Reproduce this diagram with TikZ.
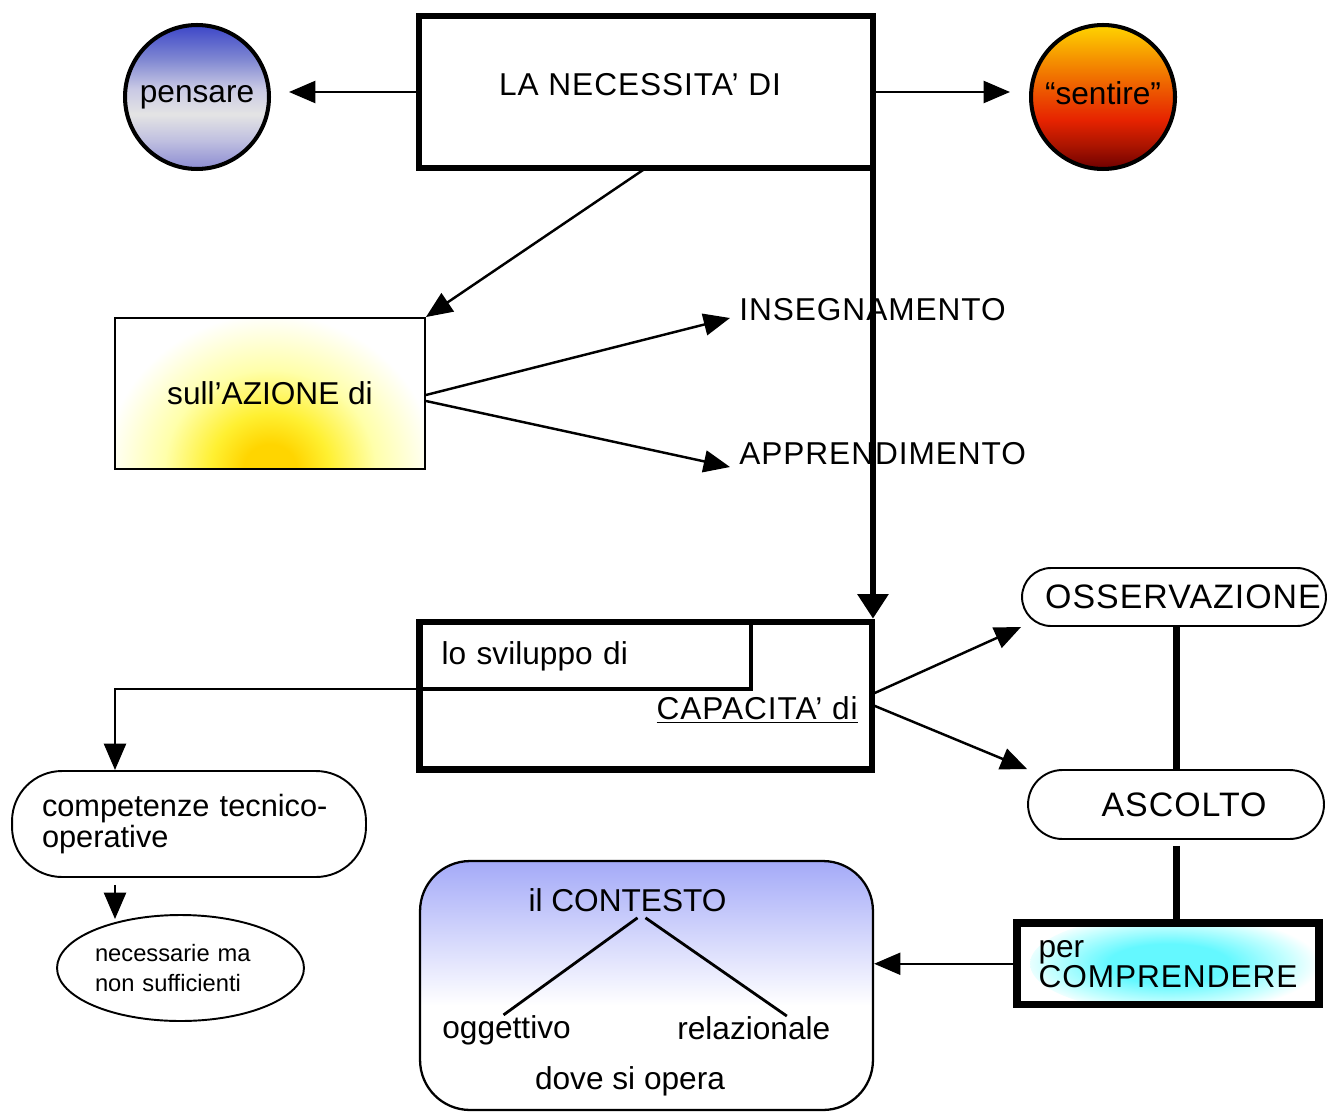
\documentclass[tikz,border=0pt]{standalone}
\usepackage{fontspec}
\setmainfont{Liberation Sans}
\newfontfamily\widefont{Liberation Sans}[LetterSpace=3]
\usetikzlibrary{arrows.meta,calc,shapes.geometric}
\definecolor{pensaretop}{RGB}{60,70,200}
\definecolor{pensareup}{RGB}{128,136,210}
\definecolor{pensaremid}{RGB}{200,200,228}
\definecolor{pensarelight}{RGB}{228,228,228}
\definecolor{pensarelow}{RGB}{192,192,224}
\definecolor{pensarebot}{RGB}{140,140,210}
\definecolor{sentiretop}{RGB}{255,212,0}
\definecolor{sentireup}{RGB}{245,145,0}
\definecolor{sentiremid}{RGB}{235,75,0}
\definecolor{sentirered}{RGB}{230,35,0}
\definecolor{sentirelow}{RGB}{170,20,0}
\definecolor{sentirebot}{RGB}{110,0,0}
\definecolor{azionegold}{RGB}{255,213,0}
\definecolor{azioneyellow}{RGB}{255,240,50}
\definecolor{azionepale}{RGB}{255,255,170}
\definecolor{comprcyan}{RGB}{100,248,255}
\definecolor{comprpale}{RGB}{200,255,255}
\definecolor{contestotop}{RGB}{164,170,248}
\pgfdeclareverticalshading{pensareshade}{100bp}{color(0bp)=(pensarebot); color(25bp)=(pensarebot); color(35bp)=(pensarelow); color(44bp)=(pensarelight); color(53bp)=(pensaremid); color(63bp)=(pensareup); color(75bp)=(pensaretop); color(100bp)=(pensaretop)}
\pgfdeclareverticalshading{sentireshade}{100bp}{color(0bp)=(sentirebot); color(25bp)=(sentirebot); color(33bp)=(sentirelow); color(42bp)=(sentirered); color(50bp)=(sentiremid); color(63bp)=(sentireup); color(75bp)=(sentiretop); color(100bp)=(sentiretop)}
\pgfdeclareverticalshading{contestoshade}{100bp}{color(0bp)=(white); color(46bp)=(white); color(75bp)=(contestotop); color(100bp)=(contestotop)}
\pgfdeclareradialshading{azioneshade}{\pgfpoint{0bp}{0bp}}{color(0bp)=(azionegold); color(4bp)=(azionegold); color(9bp)=(azioneyellow); color(16bp)=(azionepale); color(25bp)=(white); color(50bp)=(white)}
\pgfdeclareradialshading{comprshade}{\pgfpoint{0bp}{0bp}}{color(0bp)=(comprcyan); color(10bp)=(comprcyan); color(20bp)=(comprpale); color(25bp)=(white); color(50bp)=(white)}
\begin{document}
\begin{tikzpicture}[x=0.02cm,y=-0.02cm,font=\fontsize{18}{18}\selectfont,
	thinarrow/.style={line width=1.4pt,-{Triangle[length=15pt,width=12.5pt]}},
	thickarrow/.style={line width=3.8pt,-{Triangle[length=14pt,width=17pt]}},
	thickline/.style={line width=4pt},
	heavybox/.style={draw,line width=3.8pt,inner sep=0pt,outer sep=0pt},
	plainbox/.style={draw,line width=1.1pt},
	bubble/.style={circle,draw,line width=2.3pt,minimum size=2.88cm,inner sep=0pt,shade},
	pill/.style={draw,line width=1.1pt,rounded corners=#1,inner xsep=0pt,font=\fontsize{19.3}{19.3}\selectfont},
	word/.style={inner sep=0pt,anchor=west}]
	\useasboundingbox (0,0) rectangle (1327,1111);
	\node[heavybox,minimum width=9.08cm,minimum height=3.04cm,text depth=9pt] (nec) at (646,92) {\widefont LA NECESSITA’ DI\hspace*{0.24cm}};
	\node[bubble,shading=pensareshade] (pensare) at (197,97) {pensare};
	\node[bubble,shading=sentireshade,text depth=5pt] (sentire) at (1103,97) {“sentire”};
	\node[plainbox,minimum width=6.2cm,minimum height=3.02cm,path picture={\shade[shading=azioneshade] (path picture bounding box.south) ellipse [x radius=3.3cm,y radius=3.1cm];}] (azione) at (270,393.5) {sull’AZIONE di};
	\node[word] (insegn) at (739,310) {\widefont INSEGNAMENTO};
	\node[word] (appr) at (739,454) {\widefont APPRENDIMENTO};
	\node[heavybox,minimum width=9.05cm,minimum height=2.95cm] (cap) at (645.75,695.75) {};
	\node[draw,line width=2.8pt,outer sep=0pt,minimum height=1.32cm,text width=5.77cm,inner xsep=0.42cm,align=left] (svil) at (585.75,656) {lo sviluppo di};
	\node[inner sep=0pt,anchor=east] (capt) at (858,710) {\widefont\underline{CAPACITA’ di}};
	\node[plainbox,rounded corners=1cm,minimum height=2.12cm,text width=5.88cm,inner xsep=0.6cm,align=left,font=\fontsize{17.5}{17.6}\selectfont] (comp) at (189,824) {competenze tecnico-\\operative};
	\node[ellipse,draw,line width=1.1pt,minimum width=4.94cm,minimum height=2.12cm,inner sep=0pt,text width=3.42cm,align=left,font=\fontsize{13.5}{17}\selectfont] (necs) at (180.5,968) {necessarie ma\\non sufficienti};
	\node[pill=0.58cm,minimum width=6.08cm,minimum height=1.16cm] (osserv) at (1174,597) {\hspace*{0.36cm}\widefont OSSERVAZIONE};
	\node[pill=0.69cm,minimum width=5.92cm,minimum height=1.38cm] (ascolto) at (1176,804.5) {\hspace*{0.32cm}\widefont ASCOLTO};
	\node[heavybox,line width=4.4pt,minimum width=6.04cm,minimum height=1.63cm,align=left,font=\fontsize{18}{17}\selectfont,path picture={\shade[shading=comprshade] ([xshift=0.14cm]path picture bounding box.center) ellipse [x radius=2.9cm,y radius=1cm];}] (compr) at (1168,963.75) {per\\\widefont COMPRENDERE};
	\node[draw,line width=1.3pt,rounded corners=1cm,minimum width=9.06cm,minimum height=4.98cm,shade,shading=contestoshade] (ctx) at (646.5,985.5) {};
	\node (ctxt) at (627.5,900) {il CONTESTO};
	\node[word] (ogg) at (442,1030) {oggettivo};
	\node[word] (rel) at (677,1028) {relazionale};
	\node (dove) at (630,1081) {dove si opera};
	\draw[thinarrow,shorten >=0.36cm] (nec.west) -- (nec.west -| pensare.east);
	\draw[thinarrow,shorten >=0.38cm] (nec.east) -- (nec.east -| sentire.west);
	\draw[thinarrow] (nec.south) -- (azione.north east);
	\draw[thinarrow] ([yshift=-0.03cm]azione.east) -- ($(insegn.west)+(-9,8)$);
	\draw[thinarrow] ([yshift=-0.15cm]azione.east) -- ($(appr.west)+(-9,13)$);
	\draw[thickarrow,shorten >=1.9pt] (nec.south east) -- (nec.south east |- cap.north);
	\draw[thinarrow] ([yshift=0.03cm]cap.east) -- (osserv.south west);
	\draw[thinarrow] ([yshift=-0.18cm]cap.east) -- (ascolto.north west);
	\draw[thickline] (osserv.south -| ascolto.north) -- (ascolto.north);
	\draw[thickline] ($(ascolto.south)+(0,6)$) -- (ascolto.south |- compr.north);
	\draw[thinarrow] (compr.west) -- (compr.west -| ctx.east);
	\coordinate (bend) at (115,0);
	\draw[thinarrow] (svil.south west) -| (bend |- comp.north);
	\draw[thinarrow] ($(bend |- comp.south)+(0,7)$) -- ($(bend |- necs.north)+(0,5)$);
	\draw[line width=1.6pt] ($(ctxt.south)+(10,0)$) -- ($(ogg.north)+(-3,0)$);
	\draw[line width=1.6pt] ($(ctxt.south)+(18,0)$) -- ($(rel.north)+(33,0)$);
\end{tikzpicture}
\end{document}
